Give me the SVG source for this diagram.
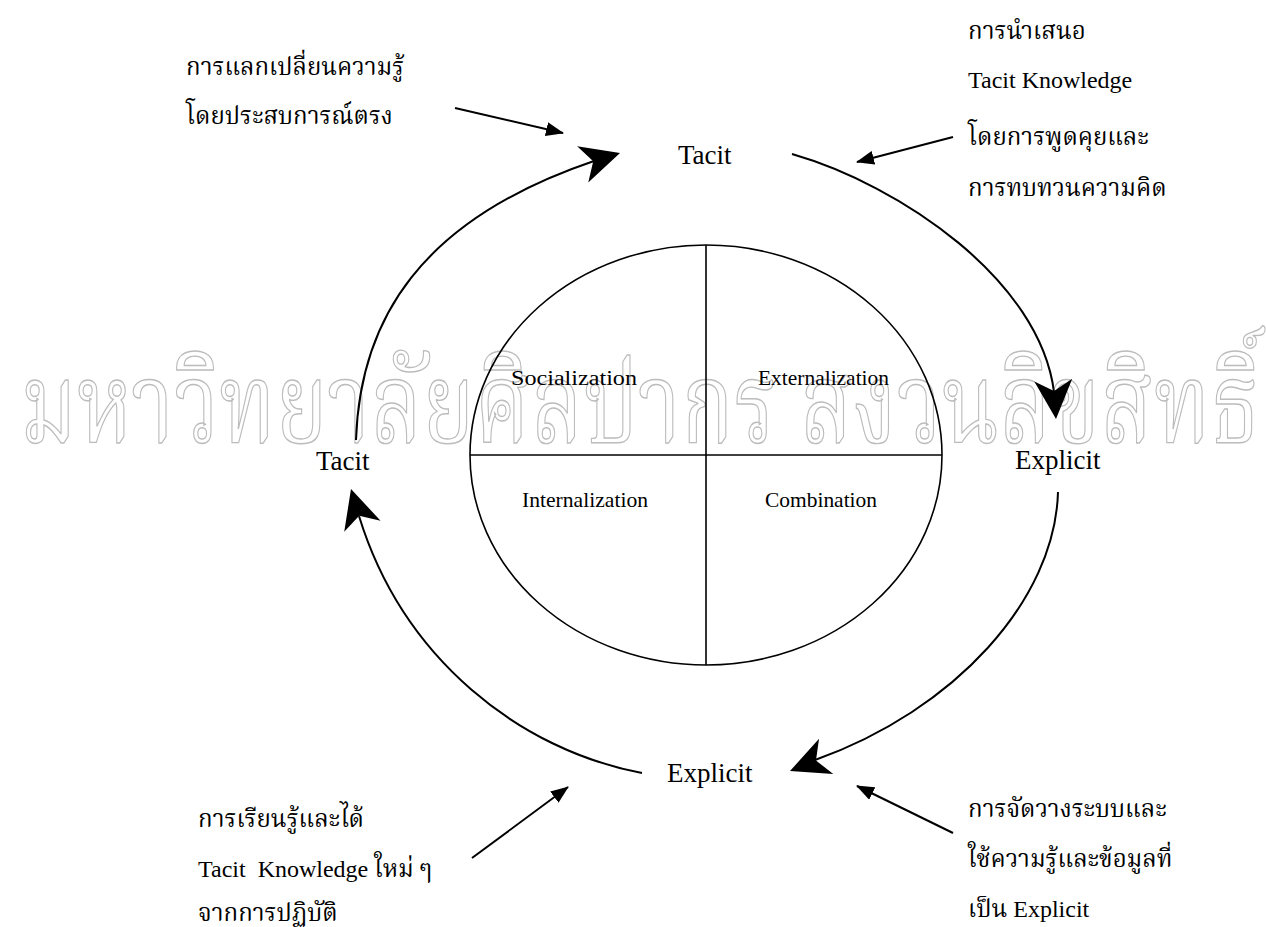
<svg xmlns="http://www.w3.org/2000/svg" width="1266" height="927" viewBox="0 0 1266 927">
<style>
.lat{font-family:"Liberation Serif","Times New Roman",serif;fill:#000}
.th{font-family:"Liberation Serif","Noto Serif Thai","Noto Sans Thai","DejaVu Sans",serif;fill:#000;font-size:24px}
.wm{font-family:"Noto Serif Thai","Noto Sans Thai","DejaVu Sans",sans-serif;fill:none;stroke:#bcbcbc;stroke-width:1.4px;font-size:112px}
.arc{fill:none;stroke:#000;stroke-width:2}
.thin{fill:none;stroke:#000;stroke-width:2;marker-end:url(#ah)}
</style>
<defs>
<marker id="ah" markerUnits="userSpaceOnUse" markerWidth="18" markerHeight="14" viewBox="0 0 18 14" refX="17" refY="7" orient="auto">
<path d="M0,0 L18,7 L0,14 Z" fill="#000"/>
</marker>
<path id="big" d="M0,0 L-39,-19 L-28,0 L-39,19 Z" fill="#000"/>
</defs>
<rect width="1266" height="927" fill="#fff"/>
<g id="watermark">
<text class="wm" x="20" y="442" textLength="1240" lengthAdjust="spacingAndGlyphs">มหาวิทยาลัยศิลปากร สงวนลิขสิทธิ์</text>
</g>
<g id="matrix">
<ellipse cx="706" cy="455" rx="236" ry="210" fill="none" stroke="#000" stroke-width="1.6"/>
<line x1="706" y1="245" x2="706" y2="665" stroke="#000" stroke-width="1.6"/>
<line x1="470" y1="455" x2="942" y2="455" stroke="#000" stroke-width="1.6"/>
</g>
<g id="q-socialization"><text class="lat" x="511" y="385" font-size="22" textLength="126" lengthAdjust="spacingAndGlyphs">Socialization</text></g>
<g id="q-externalization"><text class="lat" x="758" y="385" font-size="22" textLength="131" lengthAdjust="spacingAndGlyphs">Externalization</text></g>
<g id="q-internalization"><text class="lat" x="522" y="507" font-size="22" textLength="126" lengthAdjust="spacingAndGlyphs">Internalization</text></g>
<g id="q-combination"><text class="lat" x="765" y="507" font-size="22" textLength="112" lengthAdjust="spacingAndGlyphs">Combination</text></g>
<g id="n-tacit-top"><text class="lat" x="678" y="164" font-size="27">Tacit</text></g>
<g id="n-explicit-right"><text class="lat" x="1015" y="469" font-size="27">Explicit</text></g>
<g id="n-explicit-bottom"><text class="lat" x="667" y="782" font-size="27">Explicit</text></g>
<g id="n-tacit-left"><text class="lat" x="316" y="470" font-size="27">Tacit</text></g>
<g id="label-socialization">
<text class="th" x="186" y="75">การแลกเปลี่ยนความรู้</text>
<text class="th" x="186" y="124">โดยประสบการณ์ตรง</text>
</g>
<g id="label-externalization">
<text class="th" x="968" y="39">การนำเสนอ</text>
<text class="th" x="968" y="88">Tacit Knowledge</text>
<text class="th" x="968" y="145">โดยการพูดคุยและ</text>
<text class="th" x="968" y="196">การทบทวนความคิด</text>
</g>
<g id="label-combination">
<text class="th" x="968" y="817">การจัดวางระบบและ</text>
<text class="th" x="968" y="867">ใช้ความรู้และข้อมูลที่</text>
<text class="th" x="968" y="917">เป็น Explicit</text>
</g>
<g id="label-internalization">
<text class="th" x="198" y="827">การเรียนรู้และได้</text>
<text class="th" x="198" y="877" xml:space="preserve">Tacit  Knowledge ใหม่ ๆ</text>
<text class="th" x="198" y="921">จากการปฏิบัติ</text>
</g>
<g id="connectors">
<path class="arc" d="M356,440 C360,320 420,220 594,161"/>
<use href="#big" transform="translate(620,153) rotate(-17)"/>
<path class="arc" d="M792,154 C900,185 1040,280 1054,392"/>
<use href="#big" transform="translate(1056,419) rotate(86)"/>
<path class="arc" d="M1058,492 C1055,600 955,710 815,760"/>
<use href="#big" transform="translate(790,771) rotate(158)"/>
<path class="arc" d="M642,773 C520,750 403,659 359,516"/>
<use href="#big" transform="translate(351,489) rotate(-107)"/>
<path class="thin" d="M455,108 L563,133"/>
<path class="thin" d="M953,137 L857,162"/>
<path class="thin" d="M472,858 L568,787"/>
<path class="thin" d="M953,833 L857,786"/>
</g>
</svg>
